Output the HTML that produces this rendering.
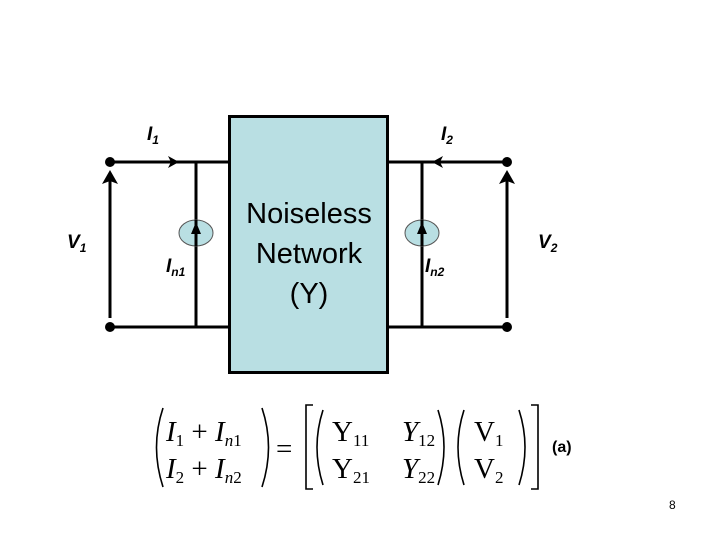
<!DOCTYPE html>
<html><head><meta charset="utf-8"><style>
html,body{margin:0;padding:0;background:#fff;}
svg{display:block;}
</style></head><body>
<svg width="720" height="540" viewBox="0 0 720 540" xmlns="http://www.w3.org/2000/svg">
<g stroke="#000" stroke-width="3" fill="none">
<line x1="110" y1="162" x2="228" y2="162"/>
<line x1="110" y1="327" x2="228" y2="327"/>
<line x1="388" y1="162" x2="507" y2="162"/>
<line x1="388" y1="327" x2="507" y2="327"/>
<line x1="196" y1="162" x2="196" y2="327"/>
<line x1="422" y1="162" x2="422" y2="327"/>
<line x1="110" y1="318" x2="110" y2="180"/>
<line x1="507" y1="318" x2="507" y2="180"/>
</g>
<g fill="#000">
<path d="M102,184 L110,170 L118,184 L110,181 Z"/>
<path d="M499,184 L507,170 L515,184 L507,181 Z"/>
<path d="M168,156 L179,162 L168,168 L171,162 Z"/>
<path d="M443,156 L432,162 L443,168 L440,162 Z"/>
<circle cx="110" cy="162" r="5"/><circle cx="110" cy="327" r="5"/>
<circle cx="507" cy="162" r="5"/><circle cx="507" cy="327" r="5"/>
</g>
<ellipse cx="196" cy="233" rx="17" ry="13" fill="#b9dfe3" stroke="#555" stroke-width="1"/>
<ellipse cx="422" cy="233" rx="17" ry="13" fill="#b9dfe3" stroke="#555" stroke-width="1"/>
<g stroke="#000" stroke-width="3"><line x1="196" y1="220" x2="196" y2="246"/><line x1="422" y1="220" x2="422" y2="246"/></g>
<g fill="#000"><path d="M191,234 L196,222 L201,234 Z"/><path d="M417,234 L422,222 L427,234 Z"/></g>
<rect x="229.5" y="116.5" width="158" height="256" fill="#b9dfe3" stroke="#000" stroke-width="3"/>
<g font-family="Liberation Sans, sans-serif" font-size="29" text-anchor="middle" fill="#000">
<text x="309" y="223">Noiseless</text>
<text x="309" y="263">Network</text>
<text x="309" y="303">(Y)</text>
</g>
<g font-family="Liberation Sans, sans-serif" font-weight="bold" font-style="italic" font-size="19" fill="#000">
<text x="147" y="140">I<tspan font-size="12" dy="4">1</tspan></text>
<text x="441" y="140">I<tspan font-size="12" dy="4">2</tspan></text>
<text x="67" y="248">V<tspan font-size="12" dy="4">1</tspan></text>
<text x="538" y="248">V<tspan font-size="12" dy="4">2</tspan></text>
<text x="166" y="272">I<tspan font-size="12" dy="4">n1</tspan></text>
<text x="425" y="272">I<tspan font-size="12" dy="4">n2</tspan></text>
</g>
<g stroke="#000" stroke-width="1.6" fill="none">
<path d="M163,408 Q150,447 163,487"/>
<path d="M262,408 Q275,447 262,487"/>
<path d="M313,405 L306,405 L306,489 L313,489"/>
<path d="M531,405 L538,405 L538,489 L531,489"/>
<path d="M323,410 Q311,447 323,485"/>
<path d="M438,410 Q450,447 438,485"/>
<path d="M464,410 Q452,447 464,485"/>
<path d="M519,410 Q531,447 519,485"/>
</g>
<g font-family="Liberation Serif, serif" font-size="29" fill="#000">
<text x="166" y="441" font-style="italic">I<tspan font-style="normal" font-size="17" dy="5">1</tspan><tspan font-style="normal" dy="-5"> + </tspan>I<tspan font-size="17" dy="5">n</tspan><tspan font-style="normal" font-size="17">1</tspan></text>
<text x="166" y="478" font-style="italic">I<tspan font-style="normal" font-size="17" dy="5">2</tspan><tspan font-style="normal" dy="-5"> + </tspan>I<tspan font-size="17" dy="5">n</tspan><tspan font-style="normal" font-size="17">2</tspan></text>
<text x="276" y="458">=</text>
<text x="332" y="441">Y<tspan font-size="17" dy="5">11</tspan></text>
<text x="332" y="478">Y<tspan font-size="17" dy="5">21</tspan></text>
<text x="402" y="441" font-style="italic">Y<tspan font-style="normal" font-size="17" dy="5">12</tspan></text>
<text x="402" y="478" font-style="italic">Y<tspan font-style="normal" font-size="17" dy="5">22</tspan></text>
<text x="474" y="441">V<tspan font-size="17" dy="5">1</tspan></text>
<text x="474" y="478">V<tspan font-size="17" dy="5">2</tspan></text>
</g>
<text x="552" y="452" font-family="Liberation Sans, sans-serif" font-weight="bold" font-size="16" fill="#000">(a)</text>
<text x="669" y="509" font-family="Liberation Sans, sans-serif" font-size="12" fill="#000">8</text>
</svg>
</body></html>
